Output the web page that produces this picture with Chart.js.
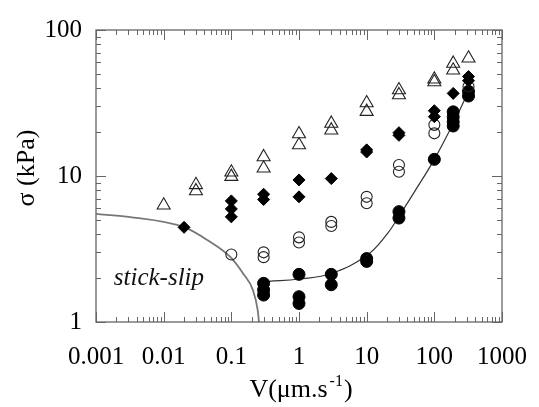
<!DOCTYPE html>
<html>
<head>
<meta charset="utf-8">
<script src="https://cdn.jsdelivr.net/npm/chart.js@4/dist/chart.umd.min.js"></script>
<style>
  html, body { margin: 0; padding: 0; background: #fff; }
  #wrap { width: 539px; height: 407px; }
</style>
</head>
<body>
<div id="wrap"><canvas id="stressChart" width="539" height="407"></canvas></div>
<script>
// sliding velocity V (um/s) and stress sigma (kPa)
var triV = [0.01, 0.03, 0.03, 0.1, 0.1, 0.3, 0.3, 1, 1, 3, 3, 10, 10, 30, 30, 100, 100, 190, 190, 320];
var triS = [6.3, 8.7, 7.9, 10.6, 9.9, 13.5, 11.3, 19.4, 16.3, 22.9, 20.6, 31.6, 27.6, 38.8, 35.9, 46, 44, 59, 53, 64];

var diaV = [0.02, 0.1, 0.1, 0.1, 0.3, 0.3, 1, 1, 3, 10, 10, 30, 30, 100, 100, 190, 320, 320];
var diaS = [4.45, 6.75, 5.95, 5.25, 7.5, 6.9, 9.4, 7.2, 9.6, 15.1, 14.6, 19.8, 19.0, 28, 25.5, 36.8, 48, 45];

var ocV = [0.1, 0.3, 0.3, 1, 1, 3, 3, 10, 10, 30, 30, 100, 100, 320];
var ocS = [2.9, 3.0, 2.78, 3.8, 3.5, 4.85, 4.55, 7.2, 6.5, 11.9, 10.7, 22.4, 19.6, 41];

var fcV = [0.3, 0.3, 0.3, 1, 1, 1, 3, 3, 10, 10, 30, 30, 100, 190, 190, 190, 190, 320, 320];
var fcS = [1.84, 1.66, 1.53, 2.12, 1.49, 1.34, 2.12, 1.8, 2.72, 2.6, 5.7, 5.15, 13, 27.5, 25.4, 23.5, 22, 38, 35.3];

// fitted curve through the filled circles
var fitV = [0.36, 1, 3, 10, 20, 30, 50, 100, 200, 320];
var fitS = [1.9, 1.97, 2.15, 2.85, 4.0, 5.3, 7.7, 13, 24, 38];

// stick-slip boundary
var slipV = [0.001, 0.003, 0.0204, 0.044, 0.0957, 0.149, 0.208, 0.245, 0.256];
var slipS = [5.5, 5.25, 4.45, 3.65, 2.8, 2.15, 1.66, 1.21, 1.0];

var xMajor = [0.001, 0.01, 0.1, 1, 10, 100, 1000];
var yMajor = [1, 10, 100];

function pts(xs, ys) {
  return xs.map(function (x, i) { return { x: x, y: ys[i] }; });
}

var serif = 'Liberation Serif, Times New Roman, serif';

// frame with inward log ticks on all four sides, plus titles and the region label
var frameTicks = {
  id: 'frameTicks',
  afterDatasetsDraw: function (chart) {
    var ctx = chart.ctx, a = chart.chartArea;
    var xs = chart.scales.x, ys = chart.scales.y;
    ctx.save();
    ctx.strokeStyle = '#666';
    ctx.lineWidth = 1.3;
    ctx.strokeRect(a.left, a.top, a.right - a.left, a.bottom - a.top);
    ctx.lineWidth = 1;
    ctx.beginPath();
    for (var d = -3; d < 3; d++) {
      for (var k = 1; k <= 10; k++) {
        var v = k * Math.pow(10, d);
        var len = (k === 1 || k === 10) ? 10 : 5;
        var px = Math.round(xs.getPixelForValue(v)) + 0.5;
        ctx.moveTo(px, a.bottom); ctx.lineTo(px, a.bottom - len);
        ctx.moveTo(px, a.top); ctx.lineTo(px, a.top + len);
      }
    }
    for (var e = 0; e < 2; e++) {
      for (var m = 1; m <= 10; m++) {
        var w = m * Math.pow(10, e);
        var l2 = (m === 1 || m === 10) ? 10 : 5;
        var py = Math.round(ys.getPixelForValue(w)) + 0.5;
        ctx.moveTo(a.left, py); ctx.lineTo(a.left + l2, py);
        ctx.moveTo(a.right, py); ctx.lineTo(a.right - l2, py);
      }
    }
    ctx.stroke();

    // region label
    ctx.fillStyle = '#111';
    ctx.font = 'italic 25px ' + serif;
    ctx.textAlign = 'center';
    ctx.textBaseline = 'middle';
    ctx.fillText('stick-slip', xs.getPixelForValue(0.0085), ys.getPixelForValue(2.0));

    // y axis title
    ctx.save();
    ctx.translate(27, (a.top + a.bottom) / 2 - 8);
    ctx.rotate(-Math.PI / 2);
    ctx.font = '26px ' + serif;
    ctx.fillStyle = '#000';
    ctx.fillText('\u03c3 (kPa)', 0, 0);
    ctx.restore();

    // x axis title with superscript
    var cx = (a.left + a.right) / 2 + 2, ty = 397;
    ctx.fillStyle = '#000';
    ctx.font = '26px ' + serif;
    ctx.textAlign = 'left';
    ctx.textBaseline = 'alphabetic';
    var base = 'V(\u03bcm.s', sup = '-1', close = ')';
    var wBase = ctx.measureText(base).width;
    ctx.font = '16px ' + serif;
    var wSup = ctx.measureText(sup).width;
    ctx.font = '26px ' + serif;
    var wClose = ctx.measureText(close).width;
    var x0 = cx - (wBase + wSup + 3 + wClose) / 2;
    ctx.fillText(base, x0, ty);
    ctx.font = '16px ' + serif;
    ctx.fillText(sup, x0 + wBase + 2, ty - 11);
    ctx.font = '26px ' + serif;
    ctx.fillText(close, x0 + wBase + wSup + 3, ty);
    ctx.restore();
  }
};

var chart = new Chart(document.getElementById('stressChart').getContext('2d'), {
  type: 'scatter',
  data: {
    datasets: [
      {
        label: 'open triangles',
        data: pts(triV, triS),
        pointStyle: 'triangle',
        pointRadius: 7.5,
        pointBackgroundColor: 'rgba(255,255,255,0)',
        pointBorderColor: '#222',
        pointBorderWidth: 1.1
      },
      {
        label: 'filled diamonds',
        data: pts(diaV, diaS),
        pointStyle: 'rectRot',
        pointRadius: 6,
        pointBackgroundColor: '#000',
        pointBorderColor: '#000',
        pointBorderWidth: 1
      },
      {
        label: 'open circles',
        data: pts(ocV, ocS),
        pointStyle: 'circle',
        pointRadius: 5.5,
        pointBackgroundColor: 'rgba(255,255,255,0)',
        pointBorderColor: '#222',
        pointBorderWidth: 1.1
      },
      {
        label: 'filled circles',
        data: pts(fcV, fcS),
        pointStyle: 'circle',
        pointRadius: 6,
        pointBackgroundColor: '#000',
        pointBorderColor: '#000',
        pointBorderWidth: 1
      },
      {
        label: 'fit',
        data: pts(fitV, fitS),
        showLine: true,
        pointRadius: 0,
        borderColor: '#333',
        borderWidth: 1.2,
        tension: 0.4,
        order: 5
      },
      {
        label: 'stick-slip boundary',
        data: pts(slipV, slipS),
        showLine: true,
        pointRadius: 0,
        borderColor: '#777',
        borderWidth: 1.8,
        cubicInterpolationMode: 'monotone',
        order: 6
      }
    ]
  },
  options: {
    responsive: false,
    animation: false,
    layout: { padding: { left: 0, top: 30, right: 27, bottom: 0 } },
    plugins: {
      legend: { display: false },
      tooltip: { enabled: false }
    },
    scales: {
      x: {
        type: 'logarithmic',
        min: 0.001,
        max: 1000,
        afterBuildTicks: function (scale) {
          scale.ticks = xMajor.map(function (v) { return { value: v }; });
        },
        afterFit: function (scale) { scale.height = 85; },
        grid: { display: false },
        border: { display: false },
        ticks: {
          autoSkip: false,
          maxRotation: 0,
          padding: 12,
          color: '#000',
          font: { family: serif, size: 25 },
          callback: function (v) { return String(v); }
        }
      },
      y: {
        type: 'logarithmic',
        min: 1,
        max: 100,
        afterBuildTicks: function (scale) {
          scale.ticks = yMajor.map(function (v) { return { value: v }; });
        },
        afterFit: function (scale) { scale.width = 96; },
        grid: { display: false },
        border: { display: false },
        ticks: {
          padding: 6,
          color: '#000',
          font: { family: serif, size: 25 },
          callback: function (v) { return String(v); }
        }
      }
    }
  },
  plugins: [frameTicks]
});
</script>
</body>
</html>
